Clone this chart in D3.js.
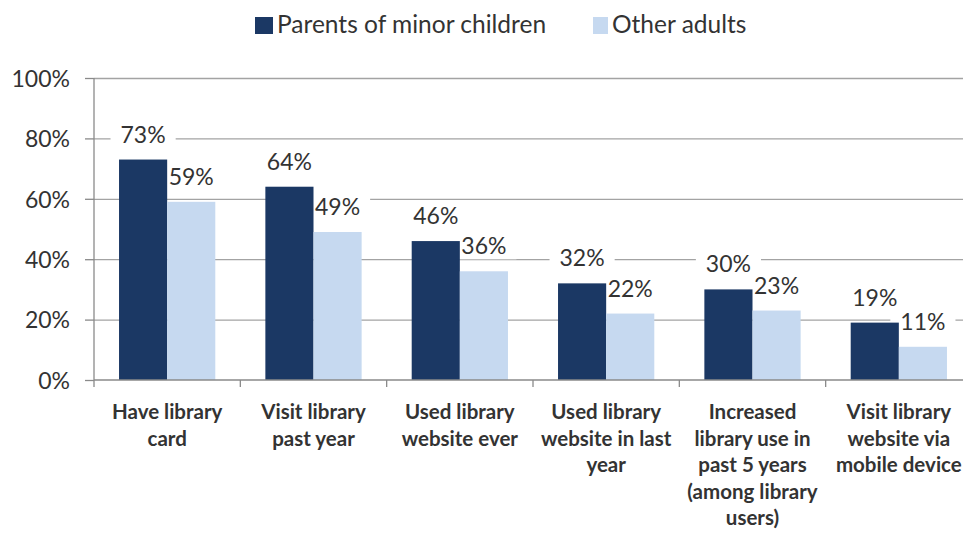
<!DOCTYPE html>
<html>
<head>
<meta charset="utf-8">
<script src="https://cdn.jsdelivr.net/npm/d3@7"></script>
<style>
  html, body { margin: 0; padding: 0; background: #fff; }
  svg { display: block; font-family: Lato, "Open Sans", sans-serif; }
</style>
</head>
<body>
<svg id="chart" width="963" height="538"></svg>
<script>
// Library usage: parents of minor children vs. other adults
const categoryLines = [
  ["Have library", "card"],
  ["Visit library", "past year"],
  ["Used library", "website ever"],
  ["Used library", "website in last", "year"],
  ["Increased", "library use in", "past 5 years", "(among library", "users)"],
  ["Visit library", "website via", "mobile device"]
];
const categories = categoryLines.map(l => l.join(" "));
const series = ["Parents of minor children", "Other adults"];
const parents = [0.73, 0.64, 0.46, 0.32, 0.30, 0.19];
const otherAdults = [0.59, 0.49, 0.36, 0.22, 0.23, 0.11];
const yTicks = [0, 0.2, 0.4, 0.6, 0.8, 1.0];
const colors = ["#1b3864", "#c6d9f0"];

const svg = d3.select("#chart");
const plotLeft = 94, plotRight = 972, plotTop = 78, plotBottom = 380;

const x0 = d3.scaleBand().domain(categories).range([plotLeft, plotRight]).paddingInner(0).paddingOuter(0);
const x1 = d3.scaleBand().domain(series).range([0, x0.bandwidth()]).paddingInner(0).paddingOuter(0.52);
const y = d3.scaleLinear().domain([0, 1]).range([plotBottom, plotTop]);
const color = d3.scaleOrdinal().domain(series).range(colors);
const pct = d3.format(".0%");

// Gridlines
svg.append("g")
  .attr("transform", `translate(${plotLeft},0)`)
  .call(d3.axisLeft(y).tickValues(yTicks.slice(1)).tickSize(-(963 - plotLeft)).tickFormat(""))
  .call(g => g.select(".domain").remove())
  .call(g => g.selectAll("line").attr("stroke", "#a3a3a3").attr("stroke-width", 1.3));

// Y axis
svg.append("g")
  .attr("transform", `translate(${plotLeft},0)`)
  .call(d3.axisLeft(y).tickValues(yTicks).tickSize(9).tickPadding(15).tickFormat(pct))
  .call(g => g.select(".domain").attr("stroke", "#8a8a8a").attr("stroke-width", 1.3).attr("d", `M0,${plotTop}V${plotBottom}`))
  .call(g => g.selectAll("line").attr("stroke", "#8a8a8a").attr("stroke-width", 1.3))
  .call(g => g.selectAll("text").attr("fill", "#333").attr("dy", "0.36em")
    .style("font-size", "23px").style("font-family", "Lato, sans-serif"));

const rows = categories.map((c, i) => ({ c, vals: [parents[i], otherAdults[i]] }));
const cells = d => series.map((s, k) => ({ s, v: d.vals[k] }));

// Layers: label backing (under bars), bars, label text
const backLayer = svg.append("g");
const barLayer = svg.append("g");
const textLayer = svg.append("g");

// Bars
barLayer.selectAll("g").data(rows).join("g")
  .attr("transform", d => `translate(${x0(d.c)},0)`)
  .selectAll("rect").data(cells).join("rect")
  .attr("x", d => x1(d.s))
  .attr("width", x1.bandwidth())
  .attr("y", d => y(d.v))
  .attr("height", d => y(0) - y(d.v))
  .attr("fill", d => color(d.s));

// Value labels
const labelText = textLayer.selectAll("g").data(rows).join("g")
  .attr("transform", d => `translate(${x0(d.c)},0)`)
  .selectAll("text").data(cells).join("text")
  .attr("x", d => x1(d.s) + x1.bandwidth() / 2)
  .attr("y", d => y(d.v) - 17)
  .attr("text-anchor", "middle")
  .attr("fill", "#333")
  .style("font-size", "23px")
  .text(d => pct(d.v));

// White backing behind each label so it breaks the gridlines
labelText.each(function () {
  const b = this.getBBox();
  const p = this.parentNode.getAttribute("transform");
  backLayer.append("rect")
    .attr("transform", p)
    .attr("x", b.x - 10).attr("y", b.y)
    .attr("width", b.width + 20).attr("height", b.height)
    .attr("fill", "#fff");
});

// X axis line and category boundary ticks
svg.append("line")
  .attr("x1", plotLeft).attr("x2", 963).attr("y1", plotBottom).attr("y2", plotBottom)
  .attr("stroke", "#8a8a8a").attr("stroke-width", 1.3);
svg.append("g").selectAll("line")
  .data(categories.map(c => x0(c)))
  .join("line")
  .attr("x1", d => d).attr("x2", d => d)
  .attr("y1", plotBottom).attr("y2", plotBottom + 7)
  .attr("stroke", "#8a8a8a").attr("stroke-width", 1.3);

// Category labels
const catG = svg.append("g").selectAll("text").data(categoryLines).join("text")
  .attr("text-anchor", "middle")
  .attr("fill", "#333")
  .style("font-size", "20.5px")
  .style("font-weight", "bold")
  .attr("transform", (d, i) => `translate(${x0(categories[i]) + x0.bandwidth() / 2},${419})`);
catG.selectAll("tspan").data(d => d).join("tspan")
  .attr("x", 0)
  .attr("dy", (d, i) => i === 0 ? 0 : 26.5)
  .text(d => d);

// Legend
const legend = svg.append("g").attr("transform", "translate(255,17)");
const legendX = [0, 338];
series.forEach((s, k) => {
  const g = legend.append("g").attr("transform", `translate(${legendX[k]},0)`);
  g.append("rect").attr("width", k === 0 ? 18 : 15).attr("height", 17).attr("fill", color(s));
  g.append("text").attr("x", k === 0 ? 22 : 19).attr("y", 16)
    .attr("fill", "#333").style("font-size", "24.5px").text(s);
});
</script>
</body>
</html>
